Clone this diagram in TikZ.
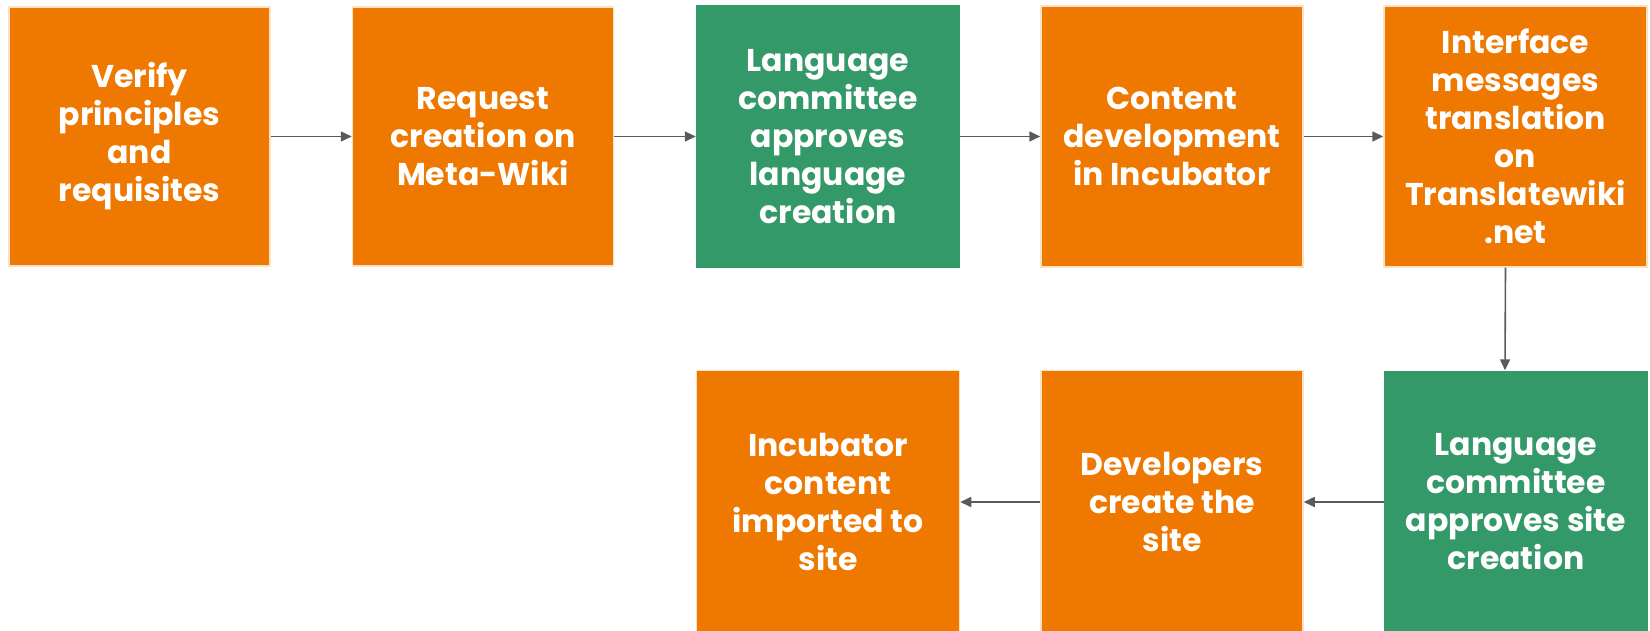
\documentclass[tikz,border=0pt]{standalone}
\usepackage{fontspec}
\setmainfont{Poppins}
\usetikzlibrary{arrows.meta}
\definecolor{boxorange}{HTML}{EE7800}
\definecolor{boxgreen}{HTML}{349968}
\definecolor{boxrim}{HTML}{FCE2C0}
\definecolor{arrowgray}{HTML}{5A5A5A}
\tikzset{
  stepbase/.style={rectangle, inner sep=0pt, text=white, align=center,
    font=\fontsize{31.5}{38}\selectfont\bfseries},
  obox/.style={stepbase, fill=boxorange, draw=boxrim, line width=1.5pt},
  gbox/.style={stepbase, fill=boxgreen},
  flow/.style={draw=arrowgray, line width=1.6pt, -{Triangle[length=11pt,width=10pt]}}
}
\begin{document}
\begin{tikzpicture}[x=1pt,y=-1pt]
\useasboundingbox (0,0) rectangle (1650,631);
\node[obox, minimum width=261pt, minimum height=259pt] (b1) at (139.5,136.5) {Verify\\principles\\and\\requisites};
\node[obox, minimum width=261pt, minimum height=259pt] (b2) at (483,136.5) {Request\\creation on\\Meta-Wiki};
\node[gbox, minimum width=264pt, minimum height=263pt] (b3) at (828,136.5) {Language\\committee\\approves\\language\\creation};
\node[obox, minimum width=262pt, minimum height=261pt] (b4) at (1172,136.5) {Content\\development\\in Incubator};
\node[obox, minimum width=263pt, minimum height=261pt] (b5) at (1515.5,136.5) {Interface\\messages\\translation\\on\\Translatewiki\\.net};
\node[gbox, minimum width=264pt, minimum height=263pt] (b6) at (1516,502) {Language\\committee\\approves site\\creation};
\node[obox, minimum width=262pt, minimum height=263pt] (b7) at (1172,502) {Developers\\create the\\site};
\node[obox, minimum width=263pt, minimum height=263pt] (b8) at (828,502) {Incubator\\content\\imported to\\site};
\draw[flow] (b1.east) -- (b2.west);
\draw[flow] (b2.east) -- (b3.west);
\draw[flow] (b3.east) -- (b4.west);
\draw[flow] (b4.east) -- (b5.west);
\draw[flow] ([xshift=-10pt]b5.south) -- ([xshift=-11pt]b6.north);
\draw[flow] (b6.west) -- (b7.east);
\draw[flow] (b7.west) -- (b8.east);
\end{tikzpicture}
\end{document}
